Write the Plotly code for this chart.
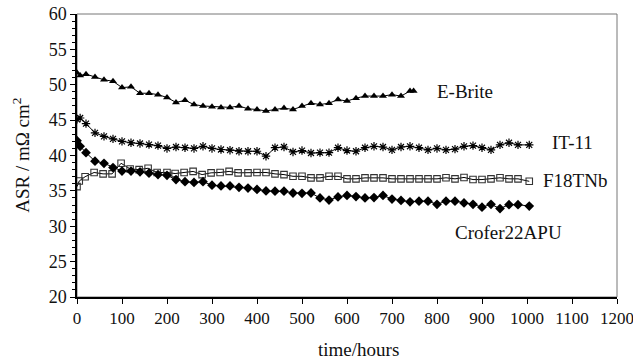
import plotly.graph_objects as go

# ---------------- data ----------------
ebrite_t = [0, 7, 20, 40, 60, 80, 100, 120, 140, 160, 180, 200, 220, 240, 260, 280, 300, 320, 340, 360,
            380, 400, 420, 440, 460, 480, 500, 520, 540, 560, 580, 600, 620, 640, 660, 680, 700, 720, 740, 748]
ebrite_v = [51.7, 51.3, 51.5, 51.1, 50.7, 50.5, 49.6, 49.7, 48.8, 48.8, 48.6, 48.2, 47.5, 47.8, 47.2, 47.0, 46.9, 46.8, 46.8, 47.0,
            46.6, 46.5, 46.3, 46.5, 46.7, 46.5, 47.0, 47.4, 47.2, 47.4, 47.9, 47.7, 48.1, 48.4, 48.4, 48.4, 48.6, 48.4, 49.1, 49.1]

it11_t = [0, 7, 20, 40, 60, 80, 100, 120, 140, 160, 180, 200, 220, 240, 260, 280, 300, 320, 340, 360,
          380, 400, 420, 440, 460, 480, 500, 520, 540, 560, 580, 600, 620, 640, 660, 680, 700, 720, 740, 760,
          780, 800, 820, 840, 860, 880, 900, 920, 940, 960, 980, 1005]
it11_v = [45.1, 45.3, 44.5, 43.2, 42.7, 42.35, 42.0, 41.8, 41.7, 41.55, 41.4, 41.0, 41.2, 41.1, 41.0, 41.3, 41.0, 40.85, 40.75, 40.6,
          40.6, 40.6, 39.9, 41.1, 41.2, 40.5, 40.7, 40.35, 40.4, 40.4, 41.1, 40.7, 40.6, 41.1, 41.3, 41.2, 40.8, 41.2, 41.3, 41.1,
          40.8, 41.0, 40.8, 40.9, 41.3, 41.4, 41.1, 40.8, 41.5, 41.8, 41.5, 41.5]

f18_t = [0, 5, 18, 38, 58, 78, 98, 118, 138, 158, 178, 200, 218, 238, 258, 278, 298, 318, 338, 358,
         380, 400, 420, 440, 460, 480, 500, 520, 540, 560, 580, 600, 620, 640, 660, 680, 700, 720, 740, 760,
         780, 800, 820, 840, 860, 880, 900, 920, 940, 960, 980, 1005]
f18_v = [35.6, 36.4, 37.0, 37.6, 37.4, 37.4, 38.9, 38.1, 38.0, 38.2, 37.6, 37.6, 37.45, 37.6, 37.75, 37.3, 37.55, 37.6, 37.75, 37.55,
         37.55, 37.6, 37.6, 37.4, 37.3, 37.06, 37.06, 36.84, 36.84, 37.06, 37.06, 36.7, 36.7, 36.84, 36.84, 36.84, 36.7, 36.7, 36.7, 36.7,
         36.7, 36.7, 36.85, 36.7, 36.9, 36.6, 36.6, 36.7, 36.85, 36.7, 36.7, 36.35]

crofer_t = [0, 7, 20, 40, 60, 80, 100, 120, 140, 160, 180, 200, 220, 240, 260, 280, 300, 320, 340, 360,
            380, 400, 420, 440, 460, 480, 500, 520, 540, 560, 580, 600, 620, 640, 660, 680, 700, 720, 740, 760,
            780, 800, 820, 840, 860, 880, 900, 920, 940, 960, 980, 1005]
crofer_v = [42.1, 41.3, 40.4, 39.2, 38.9, 38.3, 37.8, 37.8, 37.7, 37.5, 37.3, 37.2, 36.6, 36.3, 36.2, 36.3, 35.8, 35.7, 35.7, 35.5,
            35.4, 35.2, 35.0, 34.95, 34.95, 34.7, 34.65, 34.7, 34.0, 33.7, 34.15, 34.35, 34.2, 34.0, 34.05, 34.35, 33.85, 33.65, 33.45, 33.55,
            33.55, 33.1, 33.55, 33.55, 33.3, 33.1, 32.7, 33.1, 32.5, 33.05, 33.05, 32.85]

# curve label texts and anchor positions (data coordinates)
label_text = ["E-Brite", "IT-11", "F18TNb", "Crofer22APU"]
label_x = [796, 1052, 1030, 836]
label_y = [49.0, 41.9, 36.4, 29.1]

x_ticks = list(range(0, 1201, 100))
y_ticks = list(range(20, 61, 5))

# ---------------- figure ----------------
FONT = "Liberation Serif, Times New Roman, serif"
fig = go.Figure()

fig.add_trace(go.Scatter(x=ebrite_t, y=ebrite_v, mode="lines+markers", name="E-Brite",
                         line=dict(color="black", width=1),
                         marker=dict(symbol="triangle-up", size=7, color="black")))
fig.add_trace(go.Scatter(x=it11_t, y=it11_v, mode="lines+markers", name="IT-11",
                         line=dict(color="black", width=1),
                         marker=dict(symbol="asterisk-open", size=7, color="black",
                                     line=dict(color="black", width=1.2))))
fig.add_trace(go.Scatter(x=f18_t, y=f18_v, mode="lines+markers", name="F18TNb",
                         line=dict(color="black", width=1),
                         marker=dict(symbol="square-open", size=6.5, color="#333333",
                                     line=dict(color="#333333", width=1.1))))
fig.add_trace(go.Scatter(x=crofer_t, y=crofer_v, mode="lines+markers", name="Crofer22APU",
                         line=dict(color="black", width=1),
                         marker=dict(symbol="diamond", size=7.5, color="black")))

for t, xv, yv in zip(label_text, label_x, label_y):
    fig.add_annotation(x=xv, y=yv, text=t, showarrow=False, xanchor="left", yanchor="middle",
                       font=dict(family=FONT, size=19, color="#111111"))

# axis titles as annotations
fig.add_annotation(xref="paper", yref="paper", x=-0.105, y=0.5, text="ASR / mΩ cm<sup>2</sup>",
                   textangle=-90, showarrow=False, xanchor="center", yanchor="middle",
                   font=dict(family=FONT, size=19, color="#111111"))
fig.add_annotation(xref="paper", yref="paper", x=0.521, y=-0.186, text="time/hours",
                   showarrow=False, xanchor="center", yanchor="middle",
                   font=dict(family=FONT, size=19, color="#111111"))

# top / right frame
fig.add_shape(type="rect", xref="paper", yref="paper", x0=0, y0=0, x1=1, y1=1,
              line=dict(color="#777777", width=1), layer="below")

fig.update_layout(
    width=633, height=361,
    margin=dict(l=77, r=16, t=14, b=64),
    paper_bgcolor="white", plot_bgcolor="white",
    showlegend=False,
    font=dict(family=FONT, size=17, color="#111111"),
)
fig.update_xaxes(range=[0, 1200], tickvals=x_ticks, showgrid=False, zeroline=False,
                 showline=True, linecolor="black", linewidth=1.5,
                 ticks="outside", ticklen=5, tickwidth=1, tickcolor="black",
                 ticklabeloverflow="allow", automargin=False,
                 tickfont=dict(family=FONT, size=17, color="#111111"))
fig.update_yaxes(range=[20, 60], tickvals=y_ticks, showgrid=False, zeroline=False,
                 showline=True, linecolor="black", linewidth=1.5,
                 ticks="outside", ticklen=5, tickwidth=1, tickcolor="black",
                 minor=dict(dtick=1, ticks="outside", ticklen=3, tickcolor="black", showgrid=False),
                 ticklabeloverflow="allow", automargin=False,
                 tickfont=dict(family=FONT, size=18, color="#111111"))

fig.write_html("out.html")
